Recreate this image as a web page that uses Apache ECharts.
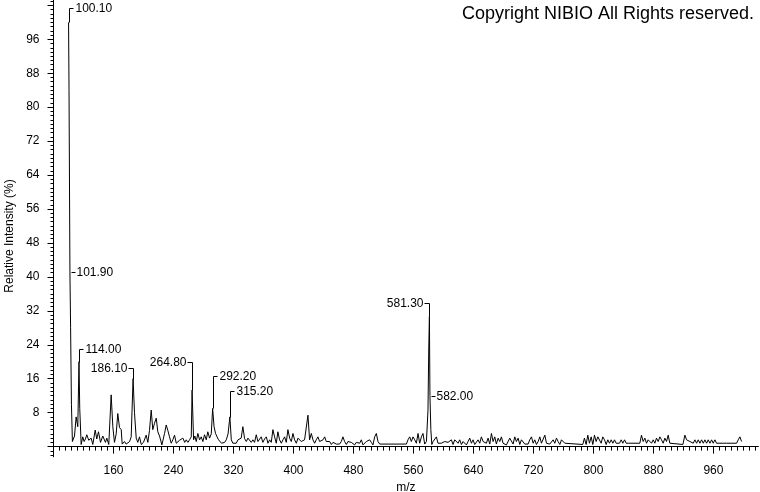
<!DOCTYPE html>
<html>
<head>
<meta charset="utf-8">
<script src="https://cdn.jsdelivr.net/npm/echarts@6/dist/echarts.min.js"></script>
<style>
  html, body { margin: 0; padding: 0; background: #fff; }
  #chart { width: 760px; height: 492px; }
</style>
</head>
<body>
<div id="chart"></div>
<script>
// ---- Data ----
const mzValues = [
  100.1, 100.7, 101.9, 102.8, 103.9, 105.2, 105.7, 108.0, 110.2, 112.4, 114.0, 115.0, 116.9, 119.0, 120.8,
  122.6, 124.4, 127.0, 130.2, 132.4, 135.6, 137.7, 140.0, 142.7, 145.7, 149.3, 151.1, 153.7, 156.9, 159.1,
  161.3, 163.6, 165.7, 168.0, 170.3, 171.6, 174.7, 176.9, 178.7, 181.5, 183.6, 186.1, 188.0, 190.3, 192.4,
  194.7, 197.0, 200.0, 203.6, 205.8, 208.0, 210.3, 212.4, 214.7, 217.0, 219.1, 221.4, 224.5, 228.1, 230.3,
  232.5, 234.7, 237.0, 239.1, 241.4, 243.7, 246.0, 248.1, 250.3, 252.5, 255.0, 257.0, 259.2, 261.4, 263.7,
  264.8, 266.8, 268.5, 270.4, 272.5, 274.8, 277.0, 279.2, 281.4, 283.7, 285.8, 288.1, 290.4, 292.2, 294.1,
  296.1, 298.1, 300.1, 302.1, 304.1, 306.1, 308.2, 310.4, 312.8, 315.2, 317.1, 319.2, 321.5, 323.7, 326.0,
  328.1, 330.3, 332.5, 334.8, 337.1, 339.3, 341.5, 343.7, 345.9, 348.1, 350.4, 352.6, 354.8, 357.0, 359.2,
  361.5, 363.8, 366.0, 368.2, 370.4, 372.6, 374.8, 377.1, 379.2, 381.5, 383.8, 386.0, 388.2, 390.4, 392.6,
  394.9, 397.1, 399.3, 401.5, 403.8, 406.0, 408.2, 410.4, 412.6, 414.8, 417.1, 419.3, 421.5, 423.8, 426.0,
  428.2, 430.4, 432.6, 434.9, 437.2, 439.4, 441.6, 443.8, 446.0, 448.3, 450.5, 452.7, 454.9, 457.1, 459.3,
  461.5, 463.8, 466.0, 468.2, 470.5, 472.7, 474.9, 477.1, 479.3, 481.6, 483.8, 486.0, 488.3, 490.5, 492.7,
  495.0, 497.2, 499.4, 501.6, 503.8, 506.0, 508.3, 510.5, 512.7, 515.0, 550.6, 552.7, 555.0, 557.2, 559.4,
  561.7, 563.9, 566.1, 568.3, 570.6, 572.7, 575.0, 577.3, 579.4, 580.4, 581.3, 582.0, 583.2, 584.5, 586.2,
  588.3, 590.6, 592.7, 595.0, 597.2, 599.4, 601.7, 603.9, 606.1, 608.4, 610.6, 612.8, 615.0, 617.3, 619.5,
  621.7, 624.0, 626.2, 628.4, 630.6, 632.8, 635.1, 637.3, 639.5, 641.7, 644.0, 646.2, 648.4, 650.6, 652.9,
  655.1, 657.3, 659.5, 661.8, 664.0, 666.2, 668.4, 670.6, 672.9, 675.1, 677.3, 679.5, 681.8, 684.0, 686.2,
  688.4, 690.7, 692.9, 695.1, 697.3, 699.6, 701.8, 704.0, 706.2, 708.5, 710.7, 712.9, 715.1, 717.4, 719.6,
  721.8, 724.0, 726.3, 728.5, 730.7, 732.9, 735.2, 737.4, 739.6, 741.8, 744.0, 746.3, 748.5, 750.7, 752.9,
  755.2, 757.4, 759.6, 761.8, 763.0, 785.8, 788.0, 790.3, 792.5, 794.7, 797.0, 799.2, 801.4, 803.6, 805.9,
  808.1, 810.3, 812.5, 814.8, 817.0, 819.2, 821.4, 823.7, 825.9, 828.1, 830.3, 832.6, 834.8, 837.0, 839.2,
  841.5, 843.7, 846.4, 861.9, 864.1, 866.3, 868.6, 870.8, 873.0, 875.2, 877.5, 879.7, 881.9, 884.1, 886.4,
  888.6, 890.8, 893.0, 895.3, 897.5, 899.7, 901.9, 904.2, 919.3, 922.0, 924.2, 926.4, 928.7, 930.9, 933.1,
  935.3, 937.6, 939.8, 942.0, 944.2, 946.5, 948.7, 950.9, 953.1, 955.4, 957.6, 959.8, 962.0, 964.2, 966.5,
  968.7, 970.9, 973.1, 975.4, 977.6, 979.8, 990.9, 993.1, 995.3, 997.6
];
const intensities = [
  100, 84, 41.2, 28, 10, 1.2, 1.2, 2.5, 7.0, 4.7, 20, 9, 0.5, 2.3, 1.2,
  1.8, 2.8, 1.5, 2.0, 0.5, 3.9, 1.8, 3.5, 1.0, 2.5, 1.0, 2.0, 0.5, 12.2, 4.7,
  1.0, 3.0, 7.8, 4.5, 4.0, 0.6, 1.2, 0.6, 1.0, 1.2, 2.3, 16, 8, 2.0, 1.0,
  2.3, 0.5, 1.0, 2.7, 1.0, 3.8, 8.6, 4.0, 5.5, 6.7, 3.5, 2.5, 0.4, 3.1, 5.1,
  3.8, 2.3, 0.8, 1.6, 2.7, 0.8, 1.2, 1.5, 1.2, 2.0, 1.0, 1.6, 1.0, 1.6, 2.3,
  13.3, 1.6, 2.5, 1.2, 3.1, 1.6, 2.3, 1.2, 2.8, 1.6, 3.5, 2.0, 3.0, 9.0, 4.7,
  3.1, 2.3, 1.6, 1.2, 0.8, 0.5, 1.0, 1.6, 3.0, 7.0, 1.6, 0.8, 1.2, 0.8, 1.6,
  1.2, 2.0, 4.7, 1.9, 1.2, 2.0, 2.3, 1.0, 1.6, 1.0, 2.8, 1.2, 1.5, 2.3, 1.0,
  1.8, 2.3, 0.8, 1.6, 1.0, 4.0, 2.3, 0.8, 3.5, 1.6, 0.8, 1.6, 2.3, 1.0, 4.0,
  2.0, 1.2, 3.1, 1.6, 0.8, 2.0, 2.3, 1.2, 0.8, 1.6, 1.2, 7.4, 1.6, 3.1, 1.6,
  0.8, 1.6, 2.3, 1.2, 0.8, 1.6, 2.3, 1.2, 0.8, 1.2, 0.5, 1.0, 0.8, 0.6, 0.5,
  0.6, 1.2, 2.3, 1.2, 0.5, 1.2, 1.6, 1.0, 0.8, 0.4, 1.0, 1.2, 0.8, 1.6, 0.4,
  0.8, 1.2, 0.8, 1.6, 1.0, 0.4, 2.3, 3.1, 1.2, 0.6, 0.6, 1.6, 2.3, 1.2, 2.3,
  1.6, 0.8, 3.1, 0.8, 2.3, 3.1, 0.6, 1.2, 8.6, 23, 30.7, 12, 4, 0.5, 1.2,
  1.6, 2.3, 0.8, 1.2, 0.8, 0.5, 1.2, 1.6, 1.0, 0.8, 1.6, 0.5, 1.6, 2.0, 0.8,
  1.6, 0.5, 1.2, 1.6, 0.4, 1.2, 2.0, 0.8, 1.6, 0.5, 0.5, 1.6, 0.8, 2.3, 1.2,
  0.8, 0.8, 2.0, 0.6, 3.1, 1.2, 2.3, 0.6, 2.0, 1.2, 2.3, 0.8, 1.2, 0.4, 0.8,
  2.0, 1.6, 0.6, 2.3, 1.2, 2.0, 0.5, 1.6, 2.0, 0.6, 0.6, 0.6, 1.6, 2.3, 0.8,
  1.6, 0.5, 1.2, 2.3, 0.8, 1.2, 2.7, 0.8, 0.6, 0.6, 0.6, 1.6, 0.8, 2.0, 1.2,
  0.5, 1.6, 2.0, 0.8, 0.5, 0.5, 2.0, 0.5, 2.7, 0.8, 2.3, 0.5, 2.7, 1.2, 2.3,
  2.7, 0.8, 2.3, 1.6, 0.5, 1.6, 0.8, 1.6, 0.8, 1.6, 0.8, 1.2, 0.8, 1.6, 0.8,
  1.6, 0.8, 0.8, 0.8, 2.7, 1.2, 2.0, 0.8, 1.6, 1.2, 0.8, 1.6, 0.8, 2.0, 1.2,
  2.3, 1.6, 0.8, 2.0, 1.2, 2.7, 0.8, 0.5, 0.5, 2.7, 1.6, 2.0, 1.2, 1.6, 0.8,
  1.6, 0.8, 1.6, 0.8, 1.6, 0.8, 1.6, 0.8, 1.6, 0.8, 1.6, 0.8, 1.6, 0.8, 1.2,
  0.8, 1.2, 0.8, 1.2, 0.8, 0.8, 0.8, 1.6, 2.3, 1.2
];

const xTickLabels = [160, 240, 320, 400, 480, 560, 640, 720, 800, 880, 960];
const yTickLabels = [8, 16, 24, 32, 40, 48, 56, 64, 72, 80, 88, 96];

const peakLabels = ['100.10', '101.90', '114.00', '186.10', '264.80', '292.20', '315.20', '581.30', '582.00'];
const peakMz = [100.1, 101.9, 114.0, 186.1, 264.8, 292.2, 315.2, 581.3, 582.0];
const peakIntensity = [100, 41.2, 20, 16, 13.3, 9, 7, 30.7, 12];

// ---- Label layout (pixels), kept apart from the data ----
const labelRaise = [14, 0, 13, 11, 28, 32, 26, 13, 0];
const labelSide = ['right', 'tick', 'right', 'left', 'left', 'right', 'right', 'left', 'tick'];

// tick positions
const xMajorTicks = [];
for (let v = 80; v <= 1020; v += 80) xMajorTicks.push(v);
const xMinorTicks = [];
for (let v = 80; v <= 1020; v += 8) xMinorTicks.push(v);
const yMajorTicks = [];
for (let v = 0; v <= 104; v += 8) yMajorTicks.push(v);
const yMinorTicks = [];
for (let v = -2; v <= 105; v += 1) yMinorTicks.push(v);

const FONT = 'Liberation Sans, Arial, sans-serif';
const X_MIN = 80, X_MAX = 1020, Y_MIN = -2.4, Y_MAX = 105.26;

const chart = echarts.init(document.getElementById('chart'), null, { renderer: 'canvas' });

const spectrum = mzValues.map((m, i) => [m, intensities[i]]);
const peaks = peakMz.map((m, i) => [m, peakIntensity[i]]);

const baseX = {
  type: 'value', min: X_MIN, max: X_MAX, position: 'bottom',
  splitLine: { show: false }
};
const baseY = {
  type: 'value', min: Y_MIN, max: Y_MAX, position: 'left',
  splitLine: { show: false }
};

chart.setOption({
  animation: false,
  backgroundColor: '#fff',
  grid: { left: 53.5, right: 1.6, top: 0, bottom: 35.2, containLabel: false, outerBoundsMode: 'none' },
  xAxis: [
    Object.assign({}, baseX, {
      name: 'm/z', nameLocation: 'middle', nameGap: 21,
      nameTextStyle: { color: '#000', fontSize: 12, fontFamily: FONT },
      axisLine: { show: true, lineStyle: { color: '#000', width: 1 } },
      axisTick: { show: true, customValues: xMajorTicks, length: 7, lineStyle: { color: '#000' } },
      axisLabel: { show: true, customValues: xTickLabels, color: '#000', fontSize: 12, fontFamily: FONT, margin: 8 }
    }),
    Object.assign({}, baseX, {
      axisLine: { show: false },
      axisTick: { show: true, customValues: xMinorTicks, length: 4, lineStyle: { color: '#000' } },
      axisLabel: { show: false }
    })
  ],
  yAxis: [
    Object.assign({}, baseY, {
      axisLine: { show: true, lineStyle: { color: '#000', width: 1 } },
      axisTick: { show: true, customValues: yMajorTicks, length: 6, lineStyle: { color: '#000' } },
      axisLabel: { show: true, customValues: yTickLabels, color: '#000', fontSize: 12, fontFamily: FONT, margin: 14 }
    }),
    Object.assign({}, baseY, {
      axisLine: { show: false },
      axisTick: { show: true, customValues: yMinorTicks, length: 3, lineStyle: { color: '#000' } },
      axisLabel: { show: false }
    })
  ],
  graphic: [
    {
      type: 'text', x: 754, y: 14,
      style: { text: 'Copyright NIBIO All Rights reserved.', align: 'right', verticalAlign: 'middle',
        fill: '#000', font: '18px ' + FONT }
    },
    {
      type: 'text', x: 10, y: 236, rotation: Math.PI / 2,
      style: { text: 'Relative Intensity (%)', align: 'center', verticalAlign: 'middle',
        fill: '#000', font: '12px ' + FONT }
    }
  ],
  series: [
    {
      type: 'line', xAxisIndex: 0, yAxisIndex: 0,
      data: spectrum, showSymbol: false, symbol: 'none', smooth: false,
      lineStyle: { color: '#000', width: 1 }, clip: false, silent: true
    },
    {
      type: 'custom', xAxisIndex: 0, yAxisIndex: 0, clip: false, silent: true,
      data: peaks,
      renderItem: function (params, api) {
        const i = params.dataIndex;
        const p = api.coord([api.value(0), api.value(1)]);
        const px = Math.round(p[0]) + 0.5;
        const py = Math.round(p[1]) + 0.5;
        const r = labelRaise[i];
        let pts, tx, ty, align;
        if (labelSide[i] === 'right') {
          pts = [[px, py], [px, py - r], [px + 4, py - r]];
          tx = px + 6; ty = py - r; align = 'left';
        } else if (labelSide[i] === 'left') {
          pts = [[px, py], [px, py - r], [px - 5, py - r]];
          tx = px - 6; ty = py - r; align = 'right';
        } else {
          pts = [[px + 1, py], [px + 5, py]];
          tx = px + 6; ty = py; align = 'left';
        }
        return {
          type: 'group',
          children: [
            { type: 'polyline', shape: { points: pts }, style: { stroke: '#000', lineWidth: 1, fill: null } },
            { type: 'text', style: { text: peakLabels[i], x: tx, y: ty, align: align, verticalAlign: 'middle',
              fill: '#000', font: '12px ' + FONT } }
          ]
        };
      }
    }
  ]
});
</script>
</body>
</html>
